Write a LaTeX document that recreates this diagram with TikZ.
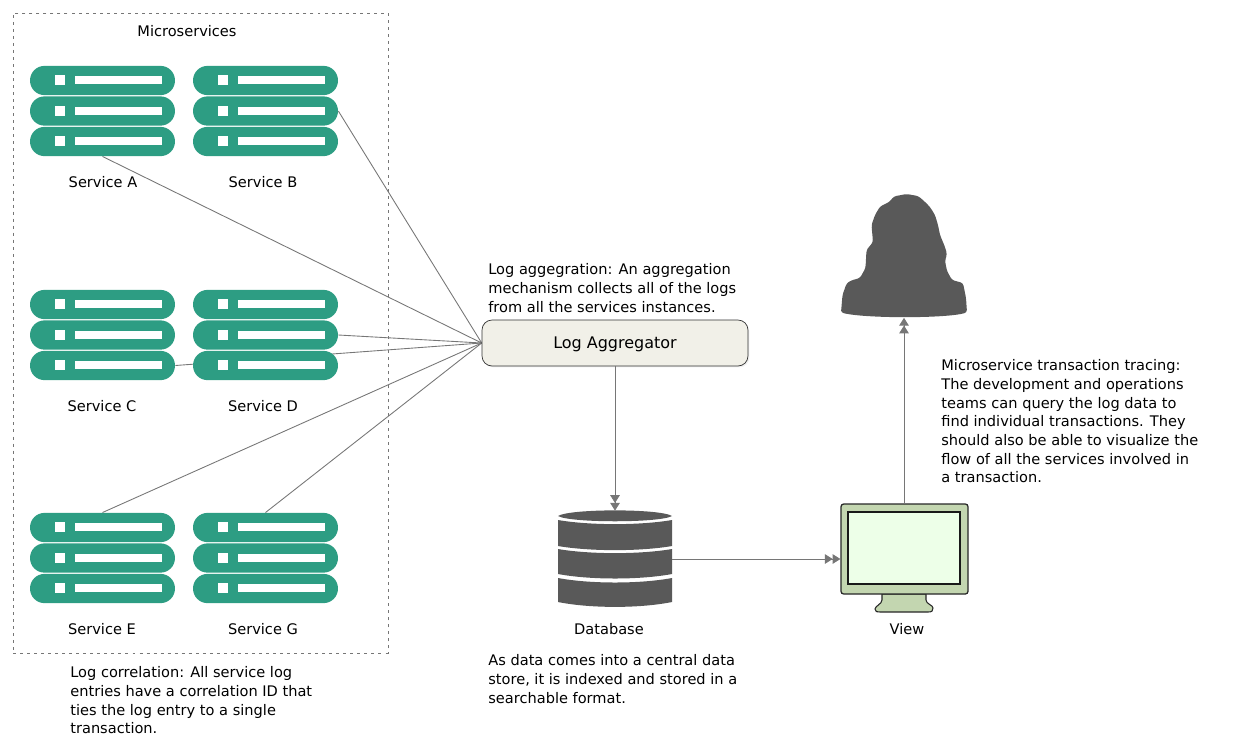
\documentclass[tikz,border=0pt]{standalone}
\usepackage{fontspec}
\setmainfont{DejaVu Sans}
\usetikzlibrary{arrows.meta,backgrounds,shadows}
\definecolor{servergreen}{HTML}{2D9D83}
\definecolor{darkshape}{HTML}{595959}
\definecolor{linegrey}{HTML}{767676}
\definecolor{aggfill}{HTML}{F1F0E8}
\definecolor{viewgreen}{HTML}{C3D6B0}
\definecolor{screengreen}{HTML}{EDFFE8}
\tikzset{
  serverbar/.style={fill=servergreen,rounded corners=0.29cm,minimum width=2.9cm,minimum height=0.585cm,inner sep=0pt},
  label/.style={inner sep=0pt,font=\fontsize{8.3}{10.6}\selectfont},
  note/.style={inner sep=0pt,anchor=north west,align=left,font=\fontsize{8.3}{10.6}\selectfont},
  conn/.style={draw=linegrey,line width=0.5pt},
  arrowconn/.style={conn,-{Triangle[length=4.4pt,width=5.4pt]Triangle[length=4.4pt,width=5.4pt]}}
}
% one rack: three bars, x and y are the middle of the top bar
\newcommand{\serverstack}[3]{
  \node[serverbar] (#11) at (#2,#3) {};
  \node[serverbar] (#12) at (#2,#3+30.5) {};
  \node[serverbar] (#13) at (#2,#3+61) {};
  \fill[white] (#2-47.5,#3-5.5) rectangle (#2-37.5,#3+4.5);
  \fill[white] (#2-27.5,#3-4.5) rectangle (#2+59.5,#3+3.5);
  \fill[white] (#2-47.5,#3+25) rectangle (#2-37.5,#3+35);
  \fill[white] (#2-27.5,#3+26) rectangle (#2+59.5,#3+34);
  \fill[white] (#2-47.5,#3+55.5) rectangle (#2-37.5,#3+65.5);
  \fill[white] (#2-27.5,#3+56.5) rectangle (#2+59.5,#3+64.5);
}
\begin{document}
\begin{tikzpicture}[x=0.02cm,y=-0.02cm]
  \useasboundingbox (0,0) rectangle (1237,751);
  \node[draw=linegrey,dash pattern=on 1.7pt off 2.3pt,line width=0.45pt,minimum width=7.5cm,minimum height=12.8cm,inner sep=0pt] (microbox) at (200.5,333) {};
  \node[label] (microlabel) at (187,31.5) {Microservices};
  % services
  \serverstack{a}{102.5}{80.5}
  \serverstack{b}{265.5}{80.5}
  \serverstack{c}{102.5}{304.5}
  \serverstack{d}{265.5}{304.5}
  \serverstack{e}{102.5}{527.5}
  \serverstack{g}{265.5}{527.5}
  \node[label] (alabel) at (103,182) {Service A};
  \node[label] (blabel) at (263,182) {Service B};
  \node[label] (clabel) at (102,406) {Service C};
  \node[label] (dlabel) at (263,406) {Service D};
  \node[label] (elabel) at (102,629) {Service E};
  \node[label] (glabel) at (263,629) {Service G};
  % aggregator
  \node[draw=black!80,line width=0.4pt,fill=aggfill,rounded corners=0.2cm,minimum width=5.32cm,minimum height=0.92cm,inner sep=0pt,
    drop shadow={shadow xshift=0.8pt,shadow yshift=-0.8pt,opacity=0.12},text height=8.5pt,text depth=2pt,font=\fontsize{9.1}{11}\selectfont] (agg) at (615,343) {Log Aggregator};
  % database
  \node[minimum width=2.28cm,minimum height=1.92cm,inner sep=0pt] (db) at (615,559) {};
  \fill[darkshape] (558,516) .. controls (570,508.5) and (660,508.5) .. (672,516) .. controls (660,523) and (570,523) .. (558,516) -- cycle;
  \fill[darkshape] (558,520) .. controls (590,525.5) and (640,525.5) .. (672,520) -- (672,546) .. controls (640,551.5) and (590,551.5) .. (558,546) -- cycle;
  \fill[darkshape] (558,549) .. controls (590,554.5) and (640,554.5) .. (672,549) -- (672,574) .. controls (640,580) and (590,580) .. (558,574) -- cycle;
  \fill[darkshape] (558,578) .. controls (590,584) and (640,584) .. (672,578) -- (672,602) .. controls (640,608.5) and (590,608.5) .. (558,602) -- cycle;
  \node[label] (dblabel) at (609,629) {Database};
  % view
  \draw[black!85,line width=0.6pt,fill=viewgreen] (882,594) -- (882,600) .. controls (882,604) and (875,606) .. (875,609) .. controls (875,612) and (877,612) .. (880,612) -- (928,612) .. controls (932,612) and (933,611) .. (933,608) .. controls (933,605) and (926,604) .. (926,600) -- (926,594) -- cycle;
  \node[draw=black!85,line width=0.7pt,fill=viewgreen,rounded corners=1.5pt,minimum width=2.54cm,minimum height=1.8cm,inner sep=0pt] (view) at (904.5,549) {};
  \node[draw=black!90,line width=0.7pt,fill=screengreen,minimum width=2.24cm,minimum height=1.44cm,inner sep=0pt] (screen) at (904,548) {};
  \node[label] (viewlabel) at (907,629) {View};
  % person
  \node[minimum width=2.52cm,minimum height=2.46cm,inner sep=0pt] (person) at (904,256) {};
  \fill[darkshape,rounded corners=1.5pt] (841,312.5) -- (842.5,295) -- (846.5,283.5) -- (851,280.5) -- (860,278) -- (865.5,268) -- (866.5,250) -- (869,247) -- (873,242) -- (871.5,225) -- (875,215) -- (880,206.5) -- (890,201.5) -- (893.5,196.5) -- (906.5,194) -- (918,196) -- (923,200) -- (930,207) -- (935,215) -- (938,225) -- (940,235) -- (945,247) -- (947,254) -- (945,261) -- (947,271) -- (952,280) -- (963,283) -- (966,298) -- (967,312.5) .. controls (945,318.5) and (865,318.5) .. (841,312.5) -- cycle;
  % connectors
  \begin{scope}[on background layer]
    \draw[conn] (a3.south)--(agg.west);
    \draw[conn] (b2.east)--(agg.west);
    \draw[conn] (c3.east)--(agg.west);
    \draw[conn] (d2.east)--(agg.west);
    \draw[conn] (e1.north)--(agg.west);
    \draw[conn] (g1.north)--(agg.west);
  \end{scope}
  \draw[arrowconn] (agg.south)--(db.north);
  \draw[arrowconn] (db.east)--(db.east -| view.west);
  \draw[arrowconn] (view.north -| person.south)--(person.south);
  % notes
  \node[note] (aggnote) at (488,263.5) {Log aggegration: An aggregation\\mechanism collects all of the logs\\from all the services instances.};
  \node[note] (tracenote) at (941,359.5) {Microservice transaction tracing:\\The development and operations\\teams can query the log data to\\find individual transactions. They\\should also be able to visualize the\\flow of all the services involved in\\a transaction.};
  \node[note] (dbnote) at (488,654.5) {As data comes into a central data\\store, it is indexed and stored in a\\searchable format.};
  \node[note] (corrnote) at (70,666.5) {Log correlation: All service log\\entries have a correlation ID that\\ties the log entry to a single\\transaction.};
\end{tikzpicture}
\end{document}
